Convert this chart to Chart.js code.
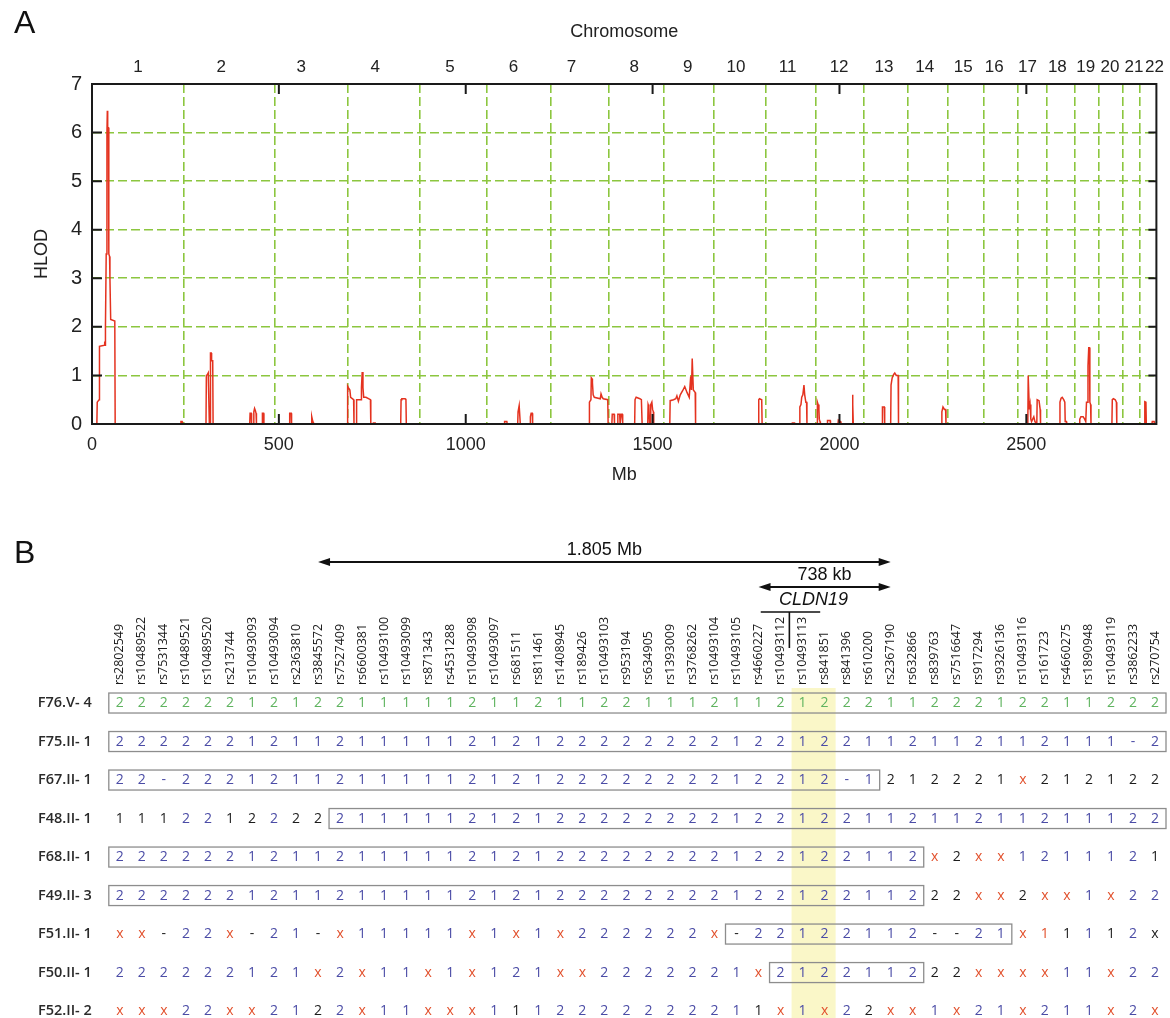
<!DOCTYPE html>
<html>
<head>
<meta charset="utf-8">
<title>HLOD genome scan and CLDN19 haplotypes</title>
<script src="https://cdn.jsdelivr.net/npm/chart.js@4.4.1/dist/chart.umd.min.js"></script>
<style>
  html, body { margin: 0; padding: 0; background: #fff; }
  #page { position: relative; width: 1170px; height: 1018px; overflow: hidden; }
  .panel-letter { position: absolute; left: 14px; font: 32px "Liberation Sans", Arial, sans-serif; line-height: 32px; color: #111; }
  #chartA { position: absolute; left: 0; top: 0; }
  #chartB { position: absolute; left: 0; top: 500px; }
</style>
</head>
<body>
<div id="page">
  <canvas id="chartA" width="1170" height="500"></canvas>
  <canvas id="chartB" width="1170" height="518"></canvas>
  <div class="panel-letter" style="top:6px">A</div>
  <div class="panel-letter" style="top:536px">B</div>
</div>
<script>
// ---- Panel A data: genome-wide HLOD scan ----
const chromosomes = ['1','2','3','4','5','6','7','8','9','10','11','12','13','14','15','16','17','18','19','20','21','22'];
const chrLabelMb = [123, 346, 560, 758, 958, 1128, 1283, 1451, 1594, 1723, 1861, 1999, 2119, 2228, 2331, 2414, 2503, 2583, 2659, 2724, 2788, 2843];
const chrBoundaryMb = [245, 488, 684, 876, 1057, 1228, 1384, 1529, 1665, 1803, 1937, 2066, 2182, 2289, 2387, 2476, 2555, 2629, 2693, 2757, 2804];
const mbTicks = [0, 500, 1000, 1500, 2000, 2500];
const hlodTicks = [0, 1, 2, 3, 4, 5, 6, 7];
const genomeEndMb = 2848;

// [Mb, HLOD]
const hlodCurve = [
  // chr1
  [0,0],[13,0],[14,0.45],[19,0.5],[20,1.6],[33,1.62],[34,1.7],[35,1.62],[36,2.0],[38,3.5],[40,6.0],[41,6.45],[42,6.1],[44,6.1],[45,3.5],[47,3.45],[48,3.0],[50,2.15],[61,2.12],[62,0],
  // chr2
  [237,0],[238,0.05],[241,0.05],[242,0],
  [305,0],[306,1.0],[309,1.02],[311,1.05],[313,1.05],[314,0],[316,0],[317,1.46],[319,1.46],[320,1.3],[323,1.3],[324,0],
  [422,0],[423,0.22],[426,0.22],[427,0],[432,0],[433,0.25],[435,0.32],[437,0.28],[439,0.22],[440,0],[455,0],[456,0.22],[459,0.22],[460,0],
  // chr3
  [528,0],[529,0.22],[533,0.22],[534,0],[587,0],[588,0.15],[590,0.08],[592,0.03],[593,0],
  // chr4
  [683,0],[684,0.78],[686,0.75],[690,0.7],[692,0.55],[700,0.5],[701,0],[707,0],[708,0.5],[720,0.5],[721,0.75],[723,1.07],[725,0.75],[727,0.55],[733,0.55],[745,0.5],[746,0],[752,0],[753,0.02],[758,0.02],[759,0],
  [826,0],[827,0.5],[829,0.52],[838,0.52],[840,0.5],[841,0],
  // chr6
  [1103,0],[1104,0.05],[1110,0.05],[1111,0],[1139,0],[1140,0.25],[1143,0.38],[1145,0.38],[1146,0],[1172,0],[1173,0.15],[1175,0.22],[1178,0.22],[1179,0],
  // chr7
  [1330,0],[1331,0.45],[1335,0.5],[1336,0.95],[1338,0.93],[1339,0.85],[1341,0.6],[1344,0.55],[1360,0.52],[1362,0.62],[1365,0.55],[1368,0.52],[1380,0.5],[1381,0],
  // chr8
  [1391,0],[1392,0.2],[1397,0.2],[1398,0],[1406,0],[1407,0.2],[1412,0.2],[1413,0],[1415,0],[1416,0.2],[1419,0.2],[1420,0],
  [1452,0],[1453,0.5],[1456,0.55],[1466,0.52],[1470,0.5],[1472,0],
  [1487,0],[1488,0.4],[1490,0.35],[1492,0],[1494,0],[1495,0.4],[1498,0.45],[1500,0.3],[1502,0.25],[1503,0],
  // chr9
  [1546,0],[1547,0.48],[1556,0.5],[1562,0.52],[1565,0.58],[1569,0.47],[1574,0.6],[1580,0.68],[1586,0.77],[1592,0.65],[1598,0.55],[1602,0.98],[1604,0.7],[1606,1.35],[1607,1.35],[1609,0.7],[1614,0.65],[1615,0],
  // chr10
  [1783,0],[1784,0.5],[1786,0.52],[1792,0.5],[1793,0],
  // chr11
  [1873,0],[1874,0.02],[1880,0.02],[1881,0],[1893,0],[1894,0.35],[1897,0.4],[1899,0.55],[1902,0.6],[1905,0.8],[1907,0.6],[1910,0.45],[1912,0.45],[1913,0],
  // chr12
  [1940,0],[1941,0.45],[1943,0.4],[1945,0.3],[1946,0.1],[1948,0.05],[1949,0],[1967,0],[1968,0.07],[1975,0.07],[1976,0],[1996,0],[1997,0.08],[2003,0.05],[2004,0],[2034,0],[2035,0.6],[2036,0.4],[2037,0],
  // chr13
  [2114,0],[2115,0.35],[2120,0.35],[2121,0],[2137,0],[2138,0.8],[2141,0.95],[2145,1.02],[2148,1.05],[2152,1.0],[2157,1.0],[2158,0],
  // chr14
  [2273,0],[2274,0.25],[2277,0.35],[2281,0.3],[2284,0.3],[2285,0],
  // chr17
  [2504,0],[2505,1.0],[2507,1.0],[2508,0.3],[2510,0.4],[2512,0.1],[2514,0.05],[2520,0.15],[2523,0.05],[2528,0],[2529,0.5],[2531,0.5],[2534,0.48],[2537,0.3],[2538,0],
  // chr18
  [2589,0],[2590,0.45],[2593,0.53],[2596,0.55],[2600,0.5],[2603,0.45],[2604,0.05],[2607,0.05],[2608,0],
  // chr19
  [2642,0],[2643,0.1],[2646,0.15],[2652,0.15],[2656,0.1],[2659,0.05],[2661,0.45],[2663,0.45],[2665,1.2],[2667,1.57],[2669,1.57],[2670,0.45],[2672,0.4],[2673,0],
  // chr20
  [2729,0],[2730,0.5],[2733,0.52],[2738,0.5],[2741,0.45],[2742,0],
  // chr21
  [2816,0],[2817,0.46],[2820,0.45],[2821,0],
  // chr22
  [2836,0],[2837,0.05],[2842,0.05],[2843,0],[2848,0]
];

// ---- Panel B data: haplotypes around CLDN19 ----
const snpIds = ['rs2802549','rs10489522','rs7531344','rs10489521','rs10489520','rs213744','rs10493093','rs10493094',
  'rs2363810','rs3845572','rs7527409','rs6600381','rs10493100','rs10493099','rs871343','rs4531288',
  'rs10493098','rs10493097','rs681511','rs811461','rs1408945','rs189426','rs10493103','rs953194',
  'rs634905','rs1393009','rs3768262','rs10493104','rs10493105','rs4660227','rs10493112','rs10493113',
  'rs841851','rs841396','rs610200','rs2367190','rs632866','rs839763','rs7516647','rs917294',
  'rs9326136','rs10493116','rs161723','rs4660275','rs1890948','rs10493119','rs3862233','rs270754'];
const individuals = ['F76.V- 4','F75.II- 1','F67.II- 1','F48.II- 1','F68.II- 1','F49.II- 3','F51.II- 1','F50.II- 1','F52.II- 2'];
// genotype calls, SNPs in groups of ten (spaces are only for reading)
const genotypeRows = [
  '2222221212 2111112112 1122111211 2122211222 12211222',
  '2222221211 2111112121 2222222212 2122112112 112111-2',
  '22-2221211 2111112121 2222222212 212-121222 1x212122',
  '1112212222 2111112121 2222222212 2122112112 11211122',
  '2222221211 2111112121 2222222212 2122112x2x x1211121',
  '2222221211 2111112121 2222222212 212211222x x2xx1x22',
  'xx-22x-21- x11111x1x1 x222222x-2 2122112--2 1x11112x',
  '222222121x 2x11x1x121 xx2222221x 212211222x xxx11x22',
  'xxx22xx212 2x11xxx111 2222222211 x1x22xx1x2 1x211x2x'
];
// colour runs per row: g green, b blue, k black, r red
const genotypeColourRuns = [
  'g48',
  'b48',
  'b35 k6 r1 k6',
  'k3 b2 k2 b1 k2 b38',
  'b37 r1 k1 r2 b6 k1',
  'b37 k2 r2 k1 r2 b1 r1 b2',
  'r2 k1 b2 r1 k1 b2 k1 r1 b5 r1 b1 r1 b1 r1 b1 b5 r1 k1 b8 k2 b2 r2 k1 b1 k1 b1 k1',
  'b9 r1 b1 r1 b2 r1 b1 r1 b3 r2 b7 r1 b7 k2 r4 b2 r1 b2',
  'r3 b2 r2 b2 k1 b1 r1 b2 r3 b1 k1 b3 b7 k1 r1 b1 r1 b1 k1 r2 b1 r1 b2 r1 b3 r1 b1 r1'
];
const sharedBlocks = [[1,48],[1,48],[1,35],[11,48],[1,37],[1,37],[29,41],[31,37],null];
const highlightSnps = [32, 33];
const intervalArrows = [
  { label: '1.805 Mb', from: 10, to: 36, y: 62, labelY: 50 },
  { label: '738 kb', from: 30, to: 36, y: 87, labelY: 75 }
];
const geneName = 'CLDN19';

const FONT_A = '"Liberation Sans", Arial, Helvetica, sans-serif';
const FONT_B = '"Open Sans", "Noto Sans", sans-serif';
const colourOf = { g: '#5fb35f', b: '#4b4ca6', k: '#1c1c1c', r: '#e2512d' };
const GREEN_GRID = '#8cc63f';

// ---------- Panel A ----------
const frameTicksA = {
  id: 'frameTicksA',
  afterDatasetsDraw(chart) {
    const { ctx, chartArea: a, scales } = chart;
    ctx.save();
    ctx.strokeStyle = '#1a1a1a';
    ctx.lineWidth = 2;
    ctx.strokeRect(a.left, a.top, a.right - a.left, a.bottom - a.top);
    ctx.beginPath();
    hlodTicks.forEach(v => {
      const y = scales.y.getPixelForValue(v);
      ctx.moveTo(a.left, y); ctx.lineTo(a.left + 10, y);
      ctx.moveTo(a.right, y); ctx.lineTo(a.right - 8, y);
    });
    mbTicks.forEach(v => {
      const x = scales.x.getPixelForValue(v);
      ctx.moveTo(x, a.bottom); ctx.lineTo(x, a.bottom - 10);
      ctx.moveTo(x, a.top); ctx.lineTo(x, a.top + 10);
    });
    ctx.stroke();
    ctx.restore();
  }
};

new Chart(document.getElementById('chartA'), {
  type: 'line',
  data: {
    datasets: [{
      label: 'HLOD',
      data: hlodCurve.map(([x, y]) => ({ x, y })),
      borderColor: '#e4321f',
      borderWidth: 1.5,
      pointRadius: 0,
      tension: 0,
      fill: false
    }]
  },
  options: {
    responsive: false,
    animation: false,
    events: [],
    layout: { padding: { left: 0, right: 13, top: 0, bottom: 0 } },
    plugins: { legend: { display: false }, tooltip: { enabled: false } },
    scales: {
      x: {
        type: 'linear', position: 'bottom', min: 0, max: genomeEndMb,
        afterBuildTicks: s => { s.ticks = mbTicks.map(v => ({ value: v })); },
        ticks: { callback: v => String(v), color: '#222', font: { family: FONT_A, size: 18 }, padding: 10, maxRotation: 0, autoSkip: false },
        grid: { display: false, drawTicks: false },
        border: { display: false },
        title: { display: true, text: 'Mb', color: '#222', font: { family: FONT_A, size: 18 }, padding: { top: 0, bottom: 14 } },
        afterFit: s => { s.height = 76; }
      },
      chrGrid: {
        type: 'linear', position: 'bottom', min: 0, max: genomeEndMb,
        afterBuildTicks: s => { s.ticks = chrBoundaryMb.map(v => ({ value: v })); },
        ticks: { display: false },
        grid: { color: GREEN_GRID, lineWidth: 1.6, drawTicks: false },
        border: { display: false, dash: [9, 4] },
        afterFit: s => { s.height = 0; }
      },
      chrTop: {
        type: 'linear', position: 'top', min: 0, max: genomeEndMb,
        afterBuildTicks: s => { s.ticks = chrLabelMb.map(v => ({ value: v })); },
        ticks: {
          callback: (v, i) => chromosomes[i],
          color: '#222', font: { family: FONT_A, size: 17 }, padding: 6, maxRotation: 0, autoSkip: false
        },
        grid: { display: false, drawTicks: false },
        border: { display: false },
        title: { display: true, text: 'Chromosome', color: '#222', font: { family: FONT_A, size: 18 }, padding: { top: 21, bottom: 0 } },
        afterFit: s => { s.height = 84; }
      },
      y: {
        type: 'linear', min: 0, max: 7,
        afterBuildTicks: s => { s.ticks = hlodTicks.map(v => ({ value: v })); },
        ticks: { color: '#222', font: { family: FONT_A, size: 20 }, padding: 10 },
        grid: { color: GREEN_GRID, lineWidth: 1.6, drawTicks: false },
        border: { display: false, dash: [9, 4] },
        title: { display: true, text: 'HLOD', color: '#222', font: { family: FONT_A, size: 18 }, padding: { top: 31, bottom: 0 } },
        afterFit: s => { s.width = 92; }
      }
    }
  },
  plugins: [frameTicksA]
});

// ---------- Panel B ----------
function expandRuns(spec) {
  return spec.split(' ').map(r => r[0].repeat(parseInt(r.slice(1), 10))).join('');
}
const genotypes = genotypeRows.map(r => r.replace(/ /g, ''));
const genotypeColours = genotypeColourRuns.map(expandRuns);

const cells = [];
genotypes.forEach((row, i) => {
  row.split('').forEach((g, j) => cells.push({ x: j, y: i, g, c: genotypeColours[i][j] }));
});

function drawArrow(ctx, x0, x1, y) {
  const head = 12, half = 4;
  ctx.beginPath();
  ctx.moveTo(x0 + head - 2, y); ctx.lineTo(x1 - head + 2, y);
  ctx.stroke();
  ctx.beginPath();
  ctx.moveTo(x0, y); ctx.lineTo(x0 + head, y - half); ctx.lineTo(x0 + head, y + half); ctx.closePath();
  ctx.moveTo(x1, y); ctx.lineTo(x1 - head, y - half); ctx.lineTo(x1 - head, y + half); ctx.closePath();
  ctx.fill();
}

const haplotypeLayer = {
  id: 'haplotypeLayer',
  beforeDatasetsDraw(chart) {
    const { ctx, chartArea: a, scales: { x, y } } = chart;
    ctx.save();
    // CLDN19 SNP columns
    const hx0 = x.getPixelForValue(highlightSnps[0] - 1.5);
    const hx1 = x.getPixelForValue(highlightSnps[1] - 0.5);
    ctx.fillStyle = '#faf7c8';
    ctx.fillRect(hx0, a.top, hx1 - hx0, a.bottom - a.top);
    // shared haplotype blocks
    ctx.strokeStyle = '#8d8d8d';
    ctx.lineWidth = 1.3;
    sharedBlocks.forEach((blk, i) => {
      if (!blk) return;
      const x0 = x.getPixelForValue(blk[0] - 1.5);
      const x1 = x.getPixelForValue(blk[1] - 0.5);
      const yc = y.getPixelForValue(i);
      ctx.strokeRect(x0, yc - 10, x1 - x0, 20);
    });
    ctx.restore();
  },
  afterDatasetsDraw(chart) {
    const { ctx, chartArea: a, scales: { x, y } } = chart;
    const meta = chart.getDatasetMeta(0);
    ctx.save();
    // genotype calls
    ctx.font = '14px ' + FONT_B;
    ctx.textAlign = 'center';
    ctx.textBaseline = 'middle';
    meta.data.forEach((pt, k) => {
      const c = cells[k];
      ctx.fillStyle = colourOf[c.c];
      ctx.fillText(c.g, pt.x, pt.y);
    });
    // individual names
    ctx.font = '600 14.5px ' + FONT_B;
    ctx.fillStyle = '#2a2a2a';
    ctx.textAlign = 'right';
    individuals.forEach((name, i) => ctx.fillText(name, a.left - 17, y.getPixelForValue(i)));
    // SNP names, rotated
    ctx.font = '12.5px ' + FONT_B;
    ctx.fillStyle = '#1a1a1a';
    ctx.textAlign = 'left';
    snpIds.forEach((id, j) => {
      ctx.save();
      ctx.translate(x.getPixelForValue(j), a.top - 3);
      ctx.rotate(-Math.PI / 2);
      ctx.fillText(id, 0, 0);
      ctx.restore();
    });
    // interval arrows
    ctx.strokeStyle = '#111';
    ctx.fillStyle = '#111';
    ctx.lineWidth = 2;
    ctx.font = '18px ' + FONT_A;
    ctx.textAlign = 'center';
    intervalArrows.forEach(arw => {
      const x0 = x.getPixelForValue(arw.from - 1);
      const x1 = x.getPixelForValue(arw.to - 1);
      drawArrow(ctx, x0, x1, arw.y);
      ctx.fillText(arw.label, (x0 + x1) / 2, arw.labelY);
    });
    // gene marker
    const gx = x.getPixelForValue((highlightSnps[0] + highlightSnps[1]) / 2 - 1);
    ctx.font = 'italic 18px ' + FONT_A;
    ctx.fillText(geneName, gx, 100);
    ctx.lineWidth = 1.6;
    ctx.beginPath();
    ctx.moveTo(x.getPixelForValue(29.1), 112);
    ctx.lineTo(x.getPixelForValue(31.8), 112);
    ctx.moveTo(x.getPixelForValue(30.4), 112);
    ctx.lineTo(x.getPixelForValue(30.4), 148);
    ctx.stroke();
    ctx.restore();
  }
};

new Chart(document.getElementById('chartB'), {
  type: 'scatter',
  data: { datasets: [{ label: 'genotypes', data: cells, pointRadius: 0, pointHoverRadius: 0 }] },
  options: {
    responsive: false,
    animation: false,
    events: [],
    layout: { padding: { left: 0, right: 4, top: 0, bottom: 0 } },
    plugins: { legend: { display: false }, tooltip: { enabled: false } },
    scales: {
      x: {
        type: 'linear', position: 'top', min: -0.5, max: snpIds.length - 0.5,
        ticks: { display: false },
        grid: { display: false, drawTicks: false },
        border: { display: false },
        afterFit: s => { s.height = 188; }
      },
      y: {
        type: 'linear', reverse: true, min: -0.39, max: 8.18,
        ticks: { display: false },
        grid: { display: false, drawTicks: false },
        border: { display: false },
        afterFit: s => { s.width = 108.8; }
      }
    }
  },
  plugins: [haplotypeLayer]
});
</script>
</body>
</html>
